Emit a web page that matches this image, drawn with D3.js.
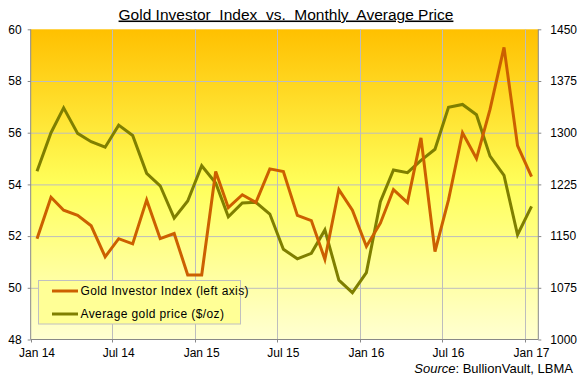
<!DOCTYPE html>
<html><head><meta charset="utf-8">
<script src="https://cdn.jsdelivr.net/npm/d3@7"></script>
<style>body{margin:0;background:#fff}svg{display:block}text{font-family:"Liberation Sans",Arial,sans-serif}</style>
</head><body>
<svg id="c" width="578" height="379"></svg>
<script>
const months = ["2014-01","2014-02","2014-03","2014-04","2014-05","2014-06","2014-07","2014-08","2014-09","2014-10","2014-11","2014-12",
"2015-01","2015-02","2015-03","2015-04","2015-05","2015-06","2015-07","2015-08","2015-09","2015-10","2015-11","2015-12",
"2016-01","2016-02","2016-03","2016-04","2016-05","2016-06","2016-07","2016-08","2016-09","2016-10","2016-11","2016-12","2017-01"];
const investorIndex = [51.9,53.5,53.0,52.8,52.4,51.2,51.9,51.7,53.4,51.9,52.1,50.5,
50.5,54.5,53.1,53.6,53.3,54.6,54.5,52.8,52.6,51.1,53.8,53.0,
51.6,52.5,53.8,53.3,55.8,51.4,53.4,56.0,55.0,56.9,59.3,55.5,54.3];
const goldPrice = [1244,1300,1336,1299,1287,1279,1311,1296,1241,1223,1176,1201,
1252,1227,1178,1198,1199,1182,1131,1117,1125,1159,1086,1068,
1097,1200,1246,1242,1260,1276,1337,1341,1326,1266,1238,1152,1193];
const leftTicks = [48,50,52,54,56,58,60];
const rightTicks = [1000,1075,1150,1225,1300,1375,1450];
const xTickLabels = ["Jan 14","Jul 14","Jan 15","Jul 15","Jan 16","Jul 16","Jan 17"];
const xTickMonths = ["2014-01","2014-07","2015-01","2015-07","2016-01","2016-07","2017-01"];
const seriesNames = ["Gold Investor Index (left axis)","Average gold price ($/oz)"];
const title = "Gold Investor\u00a0 Index\u00a0 vs.\u00a0 Monthly\u00a0 Average Price";
const source = "BullionVault, LBMA";

const svg = d3.select("#c");
const L = 30.7, R = 538.3, T = 29.3, B = 339.5;
const parse = d3.timeParse("%Y-%m-%d");
const x = d3.scaleTime().domain([parse("2014-01-01"), parse("2017-01-30")]).range([L, R]);
const yL = d3.scaleLinear().domain([48,60]).range([B, T]);
const yR = d3.scaleLinear().domain([1000,1450]).range([B, T]);
const mid = m => parse(m + "-15");
const first = m => parse(m + "-01");

const defs = svg.append("defs");
const g = defs.append("linearGradient").attr("id","bg").attr("x1",0).attr("y1",0).attr("x2",0).attr("y2",1);
g.append("stop").attr("offset","0%").attr("stop-color","#ffc000");
g.append("stop").attr("offset","50%").attr("stop-color","#ffff5a");
g.append("stop").attr("offset","100%").attr("stop-color","#ffffd2");
svg.append("rect").attr("x",L).attr("y",T).attr("width",R-L).attr("height",B-T).attr("fill","url(#bg)");

// gridlines
svg.append("g").selectAll("line").data(leftTicks.slice(1,-1)).join("line")
  .attr("x1",L).attr("x2",R).attr("y1",d=>yL(d)+0.5).attr("y2",d=>yL(d)+0.5)
  .attr("stroke","#bdbdbd").attr("stroke-width",1);
svg.append("g").selectAll("line").data(xTickMonths.slice(1)).join("line")
  .attr("x1",d=>Math.round(x(first(d)))+0.5).attr("x2",d=>Math.round(x(first(d)))+0.5).attr("y1",T).attr("y2",B)
  .attr("stroke","#bdbdbd").attr("stroke-width",1);

// axes
const axL = d3.axisLeft(yL).tickValues(leftTicks).tickSize(3).tickPadding(6).tickFormat(d3.format("d"));
const axR = d3.axisRight(yR).tickValues(rightTicks).tickSize(3).tickPadding(9).tickFormat(d3.format("d"));
const gl = svg.append("g").attr("transform",`translate(${L},0)`).call(axL);
const gr = svg.append("g").attr("transform",`translate(${R},0)`).call(axR);
[gl,gr].forEach(a=>{
  a.select(".domain").attr("stroke","#888").attr("d", `M0,${T}V${B}`);
  a.selectAll(".tick line").attr("stroke","#888");
  a.selectAll("text").attr("font-size",12).attr("fill","#000").attr("font-family","Liberation Sans, Arial, sans-serif");
});
svg.append("line").attr("x1",L).attr("x2",R).attr("y1",B).attr("y2",B).attr("stroke","#888");
svg.append("g").selectAll("line").data(xTickMonths).join("line")
  .attr("x1",d=>Math.round(x(first(d)))+0.5).attr("x2",d=>Math.round(x(first(d)))+0.5).attr("y1",B).attr("y2",B+3)
  .attr("stroke","#888");
svg.append("g").selectAll("text").data(xTickMonths).join("text")
  .attr("x",d=>x(mid(d))).attr("y",357).attr("text-anchor","middle").attr("font-size",12)
  .text((d,i)=>xTickLabels[i]);

// lines
const lineL = d3.line().x((d,i)=>x(mid(months[i]))).y(d=>yL(d));
const lineR = d3.line().x((d,i)=>x(mid(months[i]))).y(d=>yR(d));
svg.append("path").attr("d",lineR(goldPrice)).attr("fill","none").attr("stroke","#7f7f00").attr("stroke-width",3).attr("stroke-linejoin","miter");
svg.append("path").attr("d",lineL(investorIndex)).attr("fill","none").attr("stroke","#cc6000").attr("stroke-width",3).attr("stroke-linejoin","miter");

// legend
const lg = svg.append("g");
lg.append("rect").attr("x",38.5).attr("y",280.5).attr("width",202).attr("height",43.5)
  .attr("fill","#ffff96").attr("stroke","#c0c0c0").attr("stroke-width",1);
const lcol = ["#cc6000","#7f7f00"];
seriesNames.forEach((n,i)=>{
  const yy = 291 + i*23;
  lg.append("line").attr("x1",52).attr("x2",78).attr("y1",yy).attr("y2",yy).attr("stroke",lcol[i]).attr("stroke-width",3);
  lg.append("text").attr("x",80.5).attr("y",yy+4.3).attr("font-size",12).attr("letter-spacing",0.4).text(n);
});

// title
svg.append("text").attr("x",286).attr("y",19.5).attr("text-anchor","middle").attr("font-size",15.5)
  .attr("text-decoration","underline").text(title);
// source
const st = svg.append("text").attr("x",573).attr("y",373.3).attr("text-anchor","end").attr("font-size",13);
st.append("tspan").attr("font-style","italic").text("Source");
st.append("tspan").text(": " + source);
</script>
</body></html>
